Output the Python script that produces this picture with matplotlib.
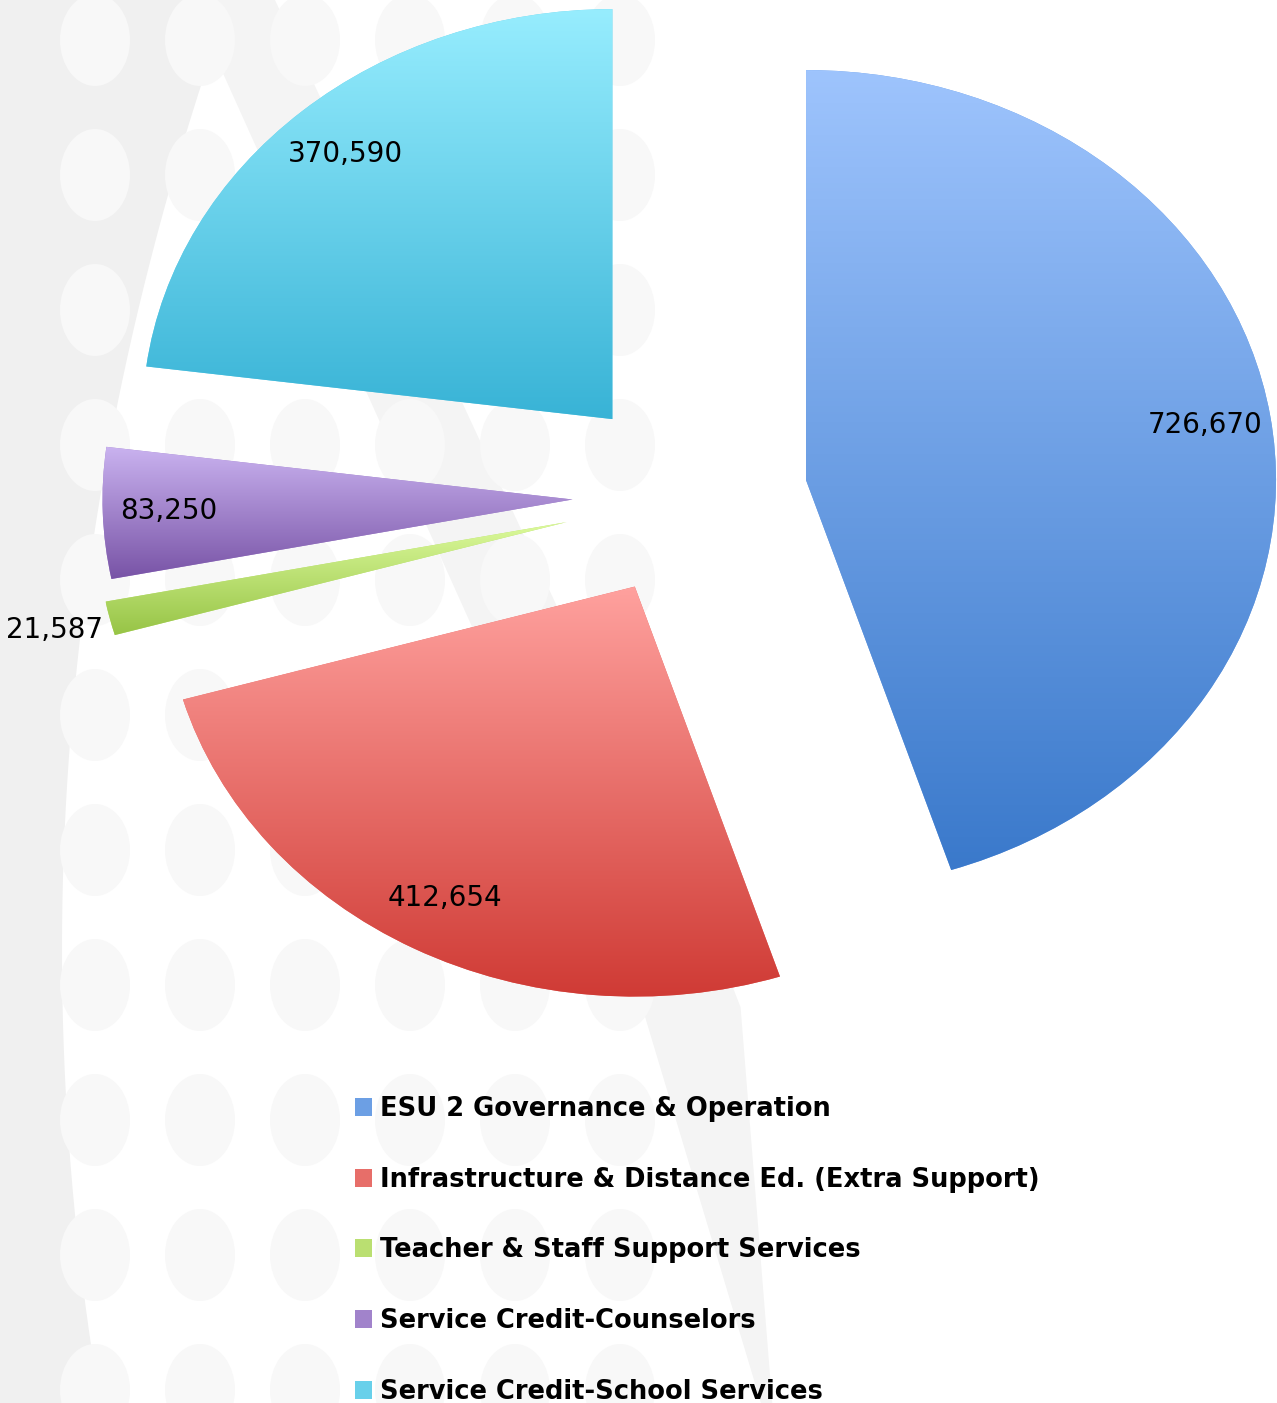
import numpy as np
import matplotlib
matplotlib.use("Agg")
import matplotlib.pyplot as plt
from matplotlib.patches import Polygon, Ellipse
from matplotlib.colors import to_rgb

# ---------------- data ----------------
categories = [
    "ESU 2 Governance & Operation",
    "Infrastructure & Distance Ed. (Extra Support)",
    "Teacher & Staff Support Services",
    "Service Credit-Counselors",
    "Service Credit-School Services",
]
values = [726670, 412654, 21587, 83250, 370590]
value_labels = ["726,670", "412,654", "21,587", "83,250", "370,590"]
top_colors = ["#9ec4fd", "#ffa19e", "#dcfa9c", "#cab3f0", "#97edfe"]
bottom_colors = ["#3a79cb", "#cf3a34", "#97c446", "#7853a6", "#38b3d6"]
explode = [0.25, 0.25, 0.27, 0.25, 0.25]

W, H = 1277, 1403
fig = plt.figure(figsize=(W / 100, H / 100), dpi=100)
fig.patch.set_facecolor("white")

# ---------------- decorative background ----------------
bg = fig.add_axes([0, 0, 1, 1], zorder=0)
bg.set_xlim(0, W)
bg.set_ylim(H, 0)
bg.axis("off")
ys = np.linspace(0, H, 60)
xs = 62 + 1.86e-4 * (ys - 950) ** 2
left_region = np.column_stack([np.r_[0, xs, 0], np.r_[0, ys, H]])
bg.add_patch(Polygon(left_region, closed=True, fc="#f0f0f0", ec="none"))
band_y = np.linspace(0, H, 40)
band_l = 190 + 450 * (band_y / 1000)
band_l = np.where(band_y > 1000, 640 + (band_y - 1000) * 0.30, band_l)
band_r = 275 + 465 * (band_y / 1000)
band_r = np.where(band_y > 1000, 740 + (band_y - 1000) * 0.08, band_r)
band = np.column_stack([np.r_[band_l, band_r[::-1]], np.r_[band_y, band_y[::-1]]])
bg.add_patch(Polygon(band, closed=True, fc="#f4f4f4", ec="none"))
for cx in [95, 200, 305, 410, 515, 620]:
    for cy in np.arange(40, H + 60, 135):
        bg.add_patch(Ellipse((cx, cy), 70, 92, fc="#f8f8f8", ec="none"))

# ---------------- pie ----------------
ax = fig.add_axes([0, 0, 1, 1], zorder=1)
ax.patch.set_alpha(0)
mid_colors = [tuple((np.array(to_rgb(a)) + np.array(to_rgb(b))) / 2)
              for a, b in zip(top_colors, bottom_colors)]
wedges, texts = ax.pie(values, labels=value_labels, explode=explode,
                       startangle=90, counterclock=False, radius=1.0,
                       colors=mid_colors, labeldistance=0.86,
                       wedgeprops=dict(linewidth=0),
                       textprops=dict(fontsize=20, family="DejaVu Sans",
                                      color="black"))

# gradient fill clipped to each wedge
for w, ctop, cbot in zip(wedges, top_colors, bottom_colors):
    verts = w.get_patch_transform().transform(w.get_path().vertices)
    x0, y0 = verts.min(axis=0)
    x1, y1 = verts.max(axis=0)
    t = np.linspace(0, 1, 256)[:, None]
    grad = (1 - t) * np.array(to_rgb(ctop)) + t * np.array(to_rgb(cbot))
    im = ax.imshow(grad[:, None, :], extent=(x0, x1, y0, y1), origin="upper",
                   aspect="auto", interpolation="bilinear", zorder=w.get_zorder())
    im.set_clip_path(w)

for i, (w, txt) in enumerate(zip(wedges, texts)):
    txt.set_ha("center")
    txt.set_va("center")
    txt.set_zorder(5)
    th = np.deg2rad((w.theta1 + w.theta2) / 2)
    cx, cy = w.center
    if i == 2:  # small slice: label outside end
        txt.set_position((cx + 1.12 * np.cos(th), cy + 1.12 * np.sin(th)))

ax.set_aspect("auto")
ax.set_xlim(-1.468, 1.249)
ax.set_ylim(-2.212, 1.210)
ax.axis("off")

leg = fig.legend(wedges, categories, loc="upper left",
                 bbox_to_anchor=(355 / W, 1 - 1096 / H),
                 frameon=False, borderpad=0, borderaxespad=0,
                 handlelength=0.65, handleheight=0.7, handletextpad=0.33,
                 labelspacing=1.74,
                 prop=dict(family="DejaVu Sans", weight="bold", size=18.5))

fig.savefig("out.png", dpi=100, facecolor="white")
